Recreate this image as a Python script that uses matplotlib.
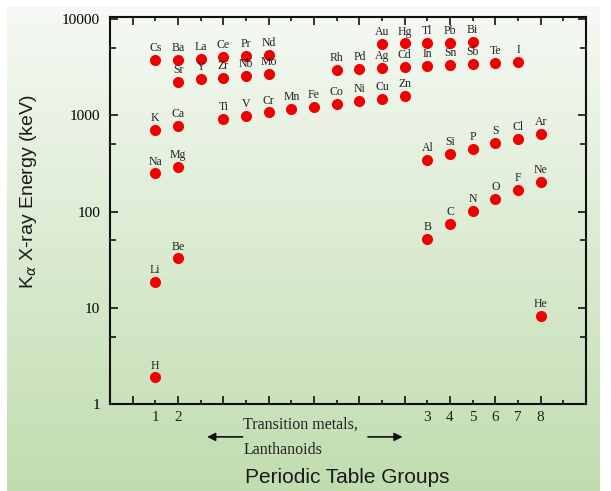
import numpy as np
import matplotlib
matplotlib.use("Agg")
import matplotlib.pyplot as plt
from matplotlib.ticker import FixedLocator, FixedFormatter, NullFormatter

# element symbols, column on the chart and K-alpha energy
symbols = ["H", "Li", "Na", "K", "Cs",
           "Be", "Mg", "Ca", "Sr", "Ba",
           "La", "Y",
           "Ce", "Zr", "Ti",
           "Pr", "Nb", "V",
           "Nd", "Mo", "Cr",
           "Mn", "Fe",
           "Rh", "Co",
           "Pd", "Ni",
           "Au", "Ag", "Cu",
           "Hg", "Cd", "Zn",
           "Tl", "In", "Al", "B",
           "Pb", "Sn", "Si", "C",
           "Bi", "Sb", "P", "N",
           "Te", "S", "O",
           "I", "Cl", "F",
           "Ar", "Ne", "He"]
columns = [1, 1, 1, 1, 1,
           2, 2, 2, 2, 2,
           3, 3,
           4, 4, 4,
           5, 5, 5,
           6, 6, 6,
           7, 8,
           9, 9,
           10, 10,
           11, 11, 11,
           12, 12, 12,
           13, 13, 13, 13,
           14, 14, 14, 14,
           15, 15, 15, 15,
           16, 16, 16,
           17, 17, 17,
           18, 18, 18]
energies = [1.89, 18.6, 249, 700, 3733,
            32.6, 291, 771, 2222, 3793,
            3890, 2390,
            4040, 2468, 911,
            4110, 2546, 986,
            4210, 2672, 1069,
            1165, 1222,
            2940, 1325,
            3035, 1401,
            5470, 3085, 1480,
            5570, 3160, 1578,
            5650, 3260, 342, 52,
            5650, 3340, 395, 74,
            5740, 3395, 448, 101,
            3477, 513, 134,
            3586, 569, 167,
            636, 205, 8.2]

group_cols = [1, 2, 13, 14, 15, 16, 17, 18]
group_names = ["1", "2", "3", "4", "5", "6", "7", "8"]

ytick_vals = [1, 10, 100, 1000, 10000]
ytick_text = ["1", "10", "100", "1000", "10000"]

serif = ["Liberation Serif", "DejaVu Serif"]
sans = ["Liberation Sans", "DejaVu Sans"]

fig = plt.figure(figsize=(6.11, 4.91), dpi=100)
fig.patch.set_facecolor("white")

# green gradient backdrop
bg = fig.add_axes([7 / 611, 0, 593 / 611, 484 / 491], zorder=0)
top = np.array([246, 249, 244]) / 255
bot = np.array([192, 221, 175]) / 255
t = np.linspace(0, 1, 256)[:, None, None]
grad = top * (1 - t) + bot * t
grad = np.repeat(grad, 4, axis=1)
bg.imshow(grad, aspect="auto", extent=[0, 1, 0, 1])
bg.axis("off")

ax = fig.add_axes([110 / 611, 87 / 491, 476 / 611, 387 / 491], zorder=1)
ax.set_facecolor("none")

ax.plot(columns, energies, "o", color="#f00000", markersize=8, markeredgewidth=0)
for s, c, e in zip(symbols, columns, energies):
    ax.annotate(s, (c, e), xytext=(0, 8.5), textcoords="offset points",
                ha="center", va="center", fontsize=8.5, family=serif, color="#222222")

ax.set_yscale("log")
ax.set_ylim(1, 10500)
ax.set_xlim(-1, 20)

ax.yaxis.set_major_locator(FixedLocator(ytick_vals))
ax.yaxis.set_major_formatter(FixedFormatter(ytick_text))
ax.yaxis.set_minor_locator(FixedLocator([5, 50, 500, 5000]))
ax.yaxis.set_minor_formatter(NullFormatter())
ax.xaxis.set_major_locator(FixedLocator(np.arange(0, 19, 2)))
ax.xaxis.set_minor_locator(FixedLocator(np.arange(1, 20, 2)))
ax.xaxis.set_major_formatter(NullFormatter())

ax.tick_params(which="both", direction="in", top=True, right=True, width=1.2, color="#111111")
ax.tick_params(axis="x", which="major", length=6)
ax.tick_params(axis="x", which="minor", length=3)
ax.tick_params(axis="y", which="major", length=6, labelsize=11, pad=7)
ax.tick_params(axis="y", which="minor", length=4)
for lab in ax.get_yticklabels():
    lab.set_family(serif)
for sp in ax.spines.values():
    sp.set_linewidth(1.5)
    sp.set_color("#111111")

# group numbers under the axis
for c, g in zip(group_cols, group_names):
    ax.annotate(g, (c, 0), xycoords=("data", "axes fraction"), xytext=(0, -9.5),
                textcoords="offset points", ha="center", va="center",
                fontsize=11, family=serif, color="#222222")

ax.text(4.88, -0.054, "Transition metals,", transform=ax.get_xaxis_transform(),
        ha="left", va="center", fontsize=11.5, family=serif, color="#222222")
ax.text(4.88, -0.119, "Lanthanoids", transform=ax.get_xaxis_transform(),
        ha="left", va="center", fontsize=11.5, family=serif, color="#222222")
arrow = dict(arrowstyle="-|>", color="#111111", lw=1.2, mutation_scale=12)
ax.annotate("", xy=(3.16, -0.085), xytext=(4.97, -0.085),
            xycoords=ax.get_xaxis_transform(), arrowprops=arrow, annotation_clip=False)
ax.annotate("", xy=(12.03, -0.085), xytext=(10.26, -0.085),
            xycoords=ax.get_xaxis_transform(), arrowprops=arrow, annotation_clip=False)

ax.set_xlabel("Periodic Table Groups", fontsize=15, family=sans, color="#1a1a1a", va="center")
ax.xaxis.set_label_coords(0.499, -0.191)
ax.set_ylabel(r"K$_\alpha$ X-ray Energy (keV)", fontsize=14, family=sans, color="#1a1a1a",
              va="center")
ax.yaxis.set_label_coords(-0.172, 0.548)

plt.rcParams["mathtext.fontset"] = "custom"
fig.savefig("out.png", dpi=100)
